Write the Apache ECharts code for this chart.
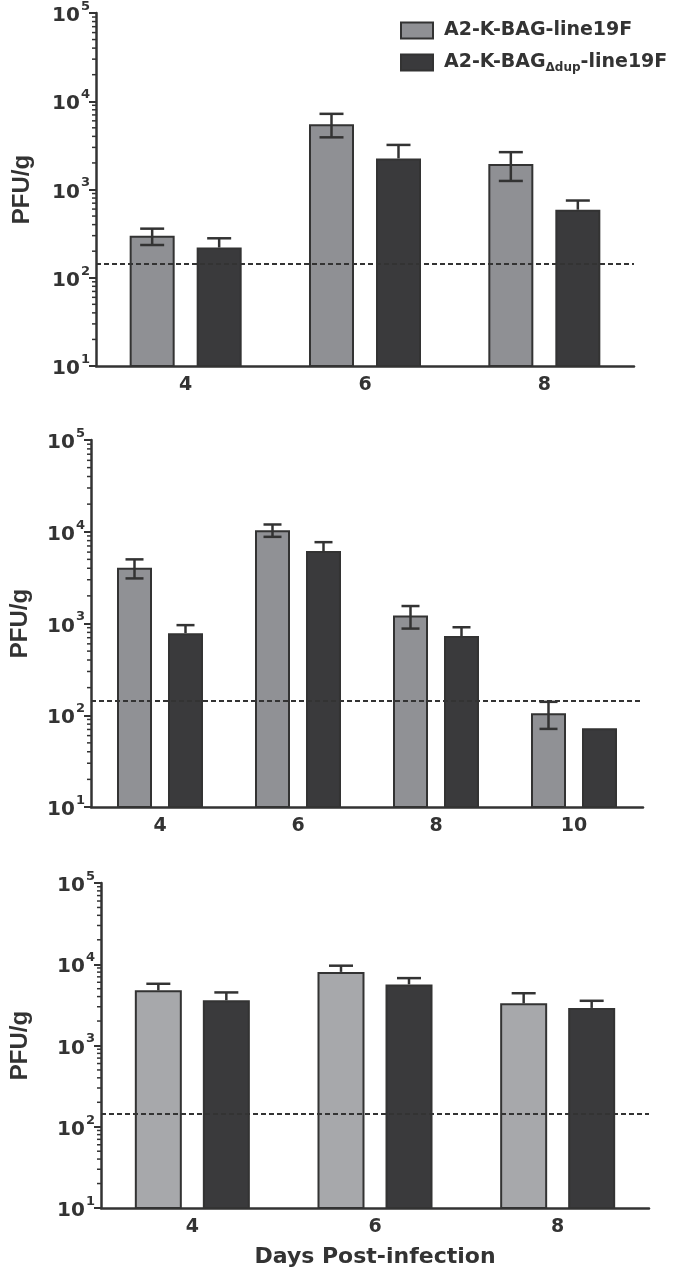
<!DOCTYPE html>
<html><head><meta charset="utf-8">
<script src="https://cdn.jsdelivr.net/npm/echarts@6/dist/echarts.min.js"></script>
<style>html,body{margin:0;padding:0;background:#fff}#c{width:680px;height:1271px}</style>
</head><body><div id="c"></div>
<script>
// ---------- data ----------
const seriesNames = ['A2-K-BAG-line19F', 'A2-K-BAG-Δdup-line19F'];

const daysTop = ['4', '6', '8'];
const topGray = [300, 5500, 1950];
const topGrayLow = [235, 3900, 1250];
const topGrayHigh = [360, 7200, 2650];
const topDark = [220, 2250, 590];
const topDarkHigh = [280, 3200, 750];

const daysMid = ['4', '6', '8', '10'];
const midGray = [4050, 10400, 1220, 105];
const midGrayLow = [3100, 8800, 880, 71];
const midGrayHigh = [5000, 12000, 1550, 140];
const midDark = [785, 6150, 730, 72];
const midDarkHigh = [960, 7700, 910, null];

const daysBot = ['4', '6', '8'];
const botGray = [4770, 8050, 3300];
const botGrayLow = [null, null, null];
const botGrayHigh = [5750, 9600, 4400];
const botDark = [3600, 5650, 2900];
const botDarkHigh = [4500, 6750, 3550];

const detectionLimit = 143;
const minorTickValues = [20,30,40,50,60,70,80,90, 200,300,400,500,600,700,800,900,
  2000,3000,4000,5000,6000,7000,8000,9000, 20000,30000,40000,50000,60000,70000,80000,90000];

// ---------- layout ----------
const FONT = '"DejaVu Sans", "Liberation Sans", Arial, sans-serif';
const FONT_NAME = '"Liberation Sans", Arial, Helvetica, sans-serif';
const INK = '#333333';
const panels = [
  { grid: {left: 96, top: 12, width: 538, height: 354}, cats: daysTop,
    gray: topGray, grayLow: topGrayLow, grayHigh: topGrayHigh, dark: topDark, darkHigh: topDarkHigh,
    barW: 45, gap: 22, cap: 24, grayColor: '#8f9094', nameGap: 62, xName: '' },
  { grid: {left: 86, top: 440, width: 557, height: 367}, cats: daysMid,
    gray: midGray, grayLow: midGrayLow, grayHigh: midGrayHigh, dark: midDark, darkHigh: midDarkHigh,
    barW: 35, gap: 16, cap: 18, grayColor: '#909195', nameGap: 59, xName: '' },
  { grid: {left: 93, top: 883, width: 556, height: 325}, cats: daysBot,
    gray: botGray, grayLow: botGrayLow, grayHigh: botGrayHigh, dark: botDark, darkHigh: botDarkHigh,
    barW: 47, gap: 21, cap: 24, grayColor: '#a7a8ab', nameGap: 69, xName: 'Days Post-infection' }
];

const option = {
  animation: false,
  backgroundColor: '#fff',
  textStyle: {fontFamily: FONT},
  legend: {
    data: seriesNames, orient: 'vertical', left: 395, top: 16,
    icon: 'rect', itemWidth: 32, itemHeight: 16, itemGap: 13,
    textStyle: {fontFamily: FONT, fontSize: 19, fontWeight: 'bold', color: INK, padding: [0,0,0,6],
      rich: {
        t: {fontFamily: FONT, fontSize: 19, fontWeight: 'bold', color: INK},
        sub: {fontFamily: FONT, fontSize: 12, fontWeight: 'bold', color: INK, padding: [10,0,0,0]}
      }},
    formatter: function (name) {
      if (name === seriesNames[1]) return '{t|A2-K-BAG}{sub|Δdup}{t|-line19F}';
      return '{t|' + name + '}';
    }
  },
  grid: [], xAxis: [], yAxis: [], series: []
};

panels.forEach(function (p, i) {
  option.grid.push(Object.assign({containLabel: false}, p.grid));
  option.xAxis.push({
    type: 'category', gridIndex: i, data: p.cats,
    name: p.xName, nameLocation: 'middle', nameGap: 38,
    nameTextStyle: {fontFamily: FONT, fontSize: 22, fontWeight: 'bold', color: INK},
    axisLine: {lineStyle: {color: INK, width: 2.5}},
    axisTick: {alignWithLabel: true, length: 6, lineStyle: {color: INK, width: 2}},
    axisLabel: {fontFamily: FONT, fontSize: 19, fontWeight: 'bold', color: INK, margin: 10},
    splitLine: {show: false}
  });
  option.yAxis.push({
    type: 'log', logBase: 10, gridIndex: i, min: 10, max: 100000,
    name: 'PFU/g', nameLocation: 'middle', nameGap: p.nameGap,
    nameTextStyle: {fontFamily: FONT_NAME, fontSize: 24, fontWeight: 'bold', color: INK},
    axisLine: {show: true, lineStyle: {color: INK, width: 2.5}},
    axisTick: {show: true, length: 7, lineStyle: {color: INK, width: 2}},
    minorTick: {show: false},
    splitLine: {show: false},
    axisLabel: {
      margin: 6, color: INK,
      formatter: function (v) { return '{b|10}{s|' + Math.round(Math.log10(v)) + '}'; },
      rich: {
        b: {fontFamily: FONT, fontSize: 20, fontWeight: 'bold', color: INK, lineHeight: 26, verticalAlign: 'bottom'},
        s: {fontFamily: FONT, fontSize: 13, fontWeight: 'bold', color: INK, lineHeight: 26, verticalAlign: 'top', padding: [0,0,0,1]}
      }
    }
  });
  // detection limit (behind bars)
  option.series.push({
    type: 'line', xAxisIndex: i, yAxisIndex: i, data: [], z: 1, silent: true,
    markLine: {silent: true, symbol: ['none', 'none'], label: {show: false},
      lineStyle: {color: INK, width: 2.2, type: [5, 3]},
      data: [{yAxis: detectionLimit}]}
  });
  const barGap = (p.gap / p.barW * 100).toFixed(1) + '%';
  option.series.push({
    type: 'bar', name: seriesNames[0], xAxisIndex: i, yAxisIndex: i, z: 2,
    data: p.gray, barWidth: p.barW, barGap: barGap,
    itemStyle: {color: p.grayColor, borderColor: INK, borderWidth: 2}
  });
  option.series.push({
    type: 'bar', name: seriesNames[1], xAxisIndex: i, yAxisIndex: i, z: 2,
    data: p.dark, barWidth: p.barW, barGap: barGap,
    itemStyle: {color: '#3a3a3c', borderColor: '#333333', borderWidth: 2}
  });
  // error bars
  const errData = [];
  p.cats.forEach(function (c, k) {
    if (p.grayHigh[k] != null) errData.push([k, p.gray[k], p.grayLow[k] != null ? p.grayLow[k] : p.gray[k], p.grayHigh[k], -1, p.grayLow[k] != null ? 1 : 0]);
    if (p.darkHigh[k] != null) errData.push([k, p.dark[k], p.dark[k], p.darkHigh[k], 1, 0]);
  });
  const off = (p.barW + p.gap) / 2, cap = p.cap;
  option.series.push({
    type: 'custom', xAxisIndex: i, yAxisIndex: i, z: 5, silent: true,
    data: errData, encode: {x: 0, y: 1},
    renderItem: function (params, api) {
      const k = api.value(0);
      const x = api.coord([k, api.value(1)])[0] + api.value(4) * off;
      const yLo = api.coord([k, api.value(2)])[1];
      const yHi = api.coord([k, api.value(3)])[1];
      const st = {stroke: INK, lineWidth: 2.5};
      const ch = [
        {type: 'line', shape: {x1: x, y1: yLo, x2: x, y2: yHi}, style: st},
        {type: 'line', shape: {x1: x - cap / 2, y1: yHi, x2: x + cap / 2, y2: yHi}, style: st}
      ];
      if (api.value(5) === 1) ch.push({type: 'line', shape: {x1: x - cap / 2, y1: yLo, x2: x + cap / 2, y2: yLo}, style: st});
      return {type: 'group', children: ch};
    }
  });
  // log minor ticks on the y axis
  option.series.push({
    type: 'custom', xAxisIndex: i, yAxisIndex: i, z: 5, silent: true,
    data: minorTickValues.map(function (v) { return [0, v]; }), encode: {x: 0, y: 1},
    renderItem: function (params, api) {
      const y = api.coord([0, api.value(1)])[1];
      const x = params.coordSys.x;
      return {type: 'line', shape: {x1: x - 4, y1: y, x2: x, y2: y}, style: {stroke: INK, lineWidth: 1.5}};
    }
  });
});

const chart = echarts.init(document.getElementById('c'), null, {renderer: 'canvas'});
chart.setOption(option);
</script>
</body></html>
